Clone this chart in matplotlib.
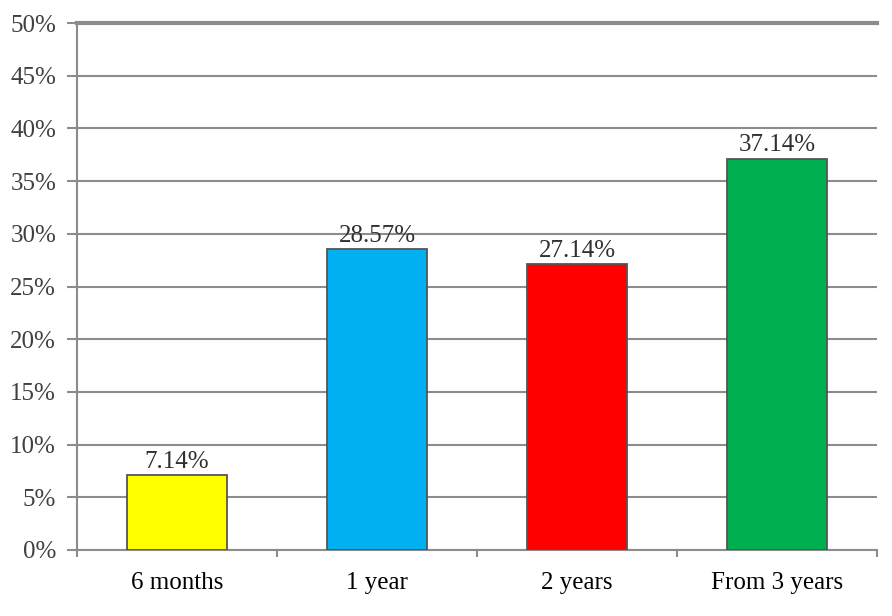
import numpy as np
import matplotlib
matplotlib.use("Agg")
from matplotlib import pyplot as plt
from matplotlib.ticker import FuncFormatter, FixedLocator

categories = ["6 months", "1 year", "2 years", "From 3 years"]
values = [7.14, 28.57, 27.14, 37.14]
colors = ["#ffff00", "#00b0f0", "#ff0000", "#00b050"]
labels = ["7.14%", "28.57%", "27.14%", "37.14%"]

plt.rcParams['font.family'] = ['Liberation Serif', 'DejaVu Serif']

fig = plt.figure(figsize=(8.92, 6.16), dpi=100)
ax = fig.add_axes([77/892, 1-550/616, 800/892, 527/616])

x = np.arange(len(categories))
bars = ax.bar(x, values, width=0.5, color=colors, edgecolor="#555555",
              linewidth=1.3, zorder=3)
for b, t in zip(bars, labels):
    ax.text(b.get_x() + b.get_width()/2, b.get_height() + 0.2, t,
            ha="center", va="bottom", fontsize=18, color="#303030")

ax.set_xlim(-0.5, len(categories) - 0.5)
ax.set_ylim(0, 50)
ax.set_yticks(np.arange(0, 51, 5))
ax.yaxis.set_major_formatter(FuncFormatter(lambda v, p: "%d%%" % v))
ax.yaxis.grid(True, color="#8c8c8c", linewidth=1.5, zorder=0)
ax.axhline(50, color="#8c8c8c", linewidth=3, zorder=1, clip_on=False)
ax.set_axisbelow(True)

ax.set_xticks(x)
ax.set_xticklabels(categories, fontsize=18, color="black")
ax.xaxis.set_minor_locator(FixedLocator(np.arange(-0.5, len(categories), 1)))
ax.tick_params(axis="x", which="major", length=0, pad=16)
ax.tick_params(axis="x", which="minor", length=5, color="#8c8c8c", width=1.5)
ax.tick_params(axis="y", length=7, color="#8c8c8c", width=1.5,
               labelsize=18, labelcolor="#404040", pad=8)

for s in ["top", "right"]:
    ax.spines[s].set_visible(False)
ax.spines["left"].set_color("#8c8c8c")
ax.spines["left"].set_linewidth(1.5)
ax.spines["bottom"].set_color("#8c8c8c")
ax.spines["bottom"].set_linewidth(1.5)

plt.savefig("out.png", dpi=100)
